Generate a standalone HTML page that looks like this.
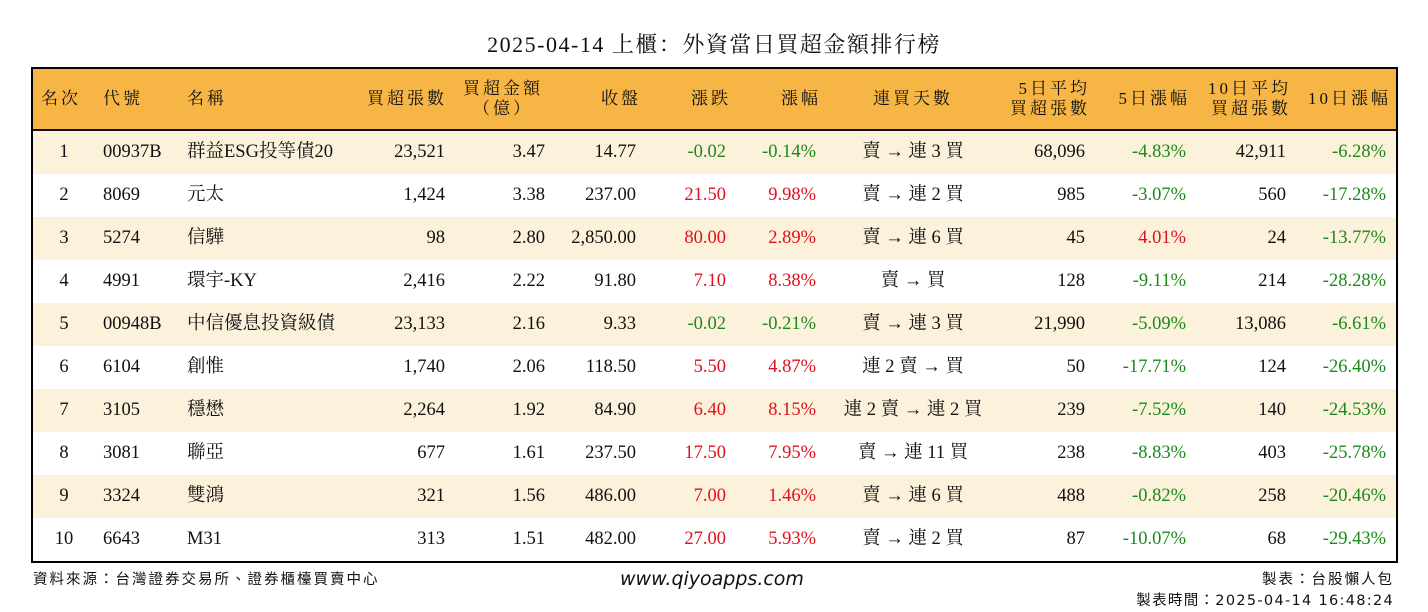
<!DOCTYPE html>
<html><head><meta charset="utf-8">
<style>
body{margin:0;width:1428px;height:612px;background:#fff;position:relative;overflow:hidden;font-family:"Liberation Serif","Noto Serif CJK SC",serif;color:#111}
.a{position:absolute;white-space:nowrap}
#title{left:0;width:1428px;top:28px;text-align:center;font-size:22px;letter-spacing:1.5px}
#tbl{position:absolute;left:31px;top:67px;width:1363px;height:492px;border:2px solid #000}
#hdr{position:absolute;left:0;top:0;width:1363px;height:60px;background:#F6B544;border-bottom:2px solid #111}
.row{position:absolute;left:0;width:1363px;height:43px}
.c{position:absolute;font-size:18.5px;line-height:43px;white-space:nowrap}
.h{position:absolute;font-size:17px;line-height:20px;white-space:nowrap;letter-spacing:3px;font-family:"Liberation Serif","Noto Serif CJK SC",serif}
.r{text-align:right}.m{text-align:center}
.g{color:#1a8a1a}.red{color:#e0101e}
.f{position:absolute;font-family:"DejaVu Sans","Noto Sans CJK TC",sans-serif;font-size:14.5px;white-space:nowrap;color:#111;letter-spacing:2px}
</style></head><body>
<div id="title" class="a">2025-04-14 上櫃：外資當日買超金額排行榜</div>
<div id="tbl">
<div id="hdr"></div>
</div>
<div class="f" style="left:33px;top:568px">資料來源：台灣證券交易所、證券櫃檯買賣中心</div>
<div class="f" style="left:620px;top:568px;font-size:19px;font-style:italic;letter-spacing:0;font-family:'DejaVu Sans',sans-serif">www.qiyoapps.com</div>
<div class="f" style="right:34px;top:568px">製表：台股懶人包</div>
<div class="f" style="right:34px;top:589px;letter-spacing:1.3px">製表時間：2025-04-14 16:48:24</div>
<script>
const ranks=["1","2","3","4","5","6","7","8","9","10"];
const codes=["00937B","8069","5274","4991","00948B","6104","3105","3081","3324","6643"];
const names=["群益ESG投等債20","元太","信驊","環宇-KY","中信優息投資級債","創惟","穩懋","聯亞","雙鴻","M31"];
const lots=["23,521","1,424","98","2,416","23,133","1,740","2,264","677","321","313"];
const amounts=["3.47","3.38","2.80","2.22","2.16","2.06","1.92","1.61","1.56","1.51"];
const closes=["14.77","237.00","2,850.00","91.80","9.33","118.50","84.90","237.50","486.00","482.00"];
const changes=["-0.02","21.50","80.00","7.10","-0.02","5.50","6.40","17.50","7.00","27.00"];
const pcts=["-0.14%","9.98%","2.89%","8.38%","-0.21%","4.87%","8.15%","7.95%","1.46%","5.93%"];
const streaks=["賣 → 連 3 買","賣 → 連 2 買","賣 → 連 6 買","賣 → 買","賣 → 連 3 買","連 2 賣 → 買","連 2 賣 → 連 2 買","賣 → 連 11 買","賣 → 連 6 買","賣 → 連 2 買"];
const avg5=["68,096","985","45","128","21,990","50","239","238","488","87"];
const pct5=["-4.83%","-3.07%","4.01%","-9.11%","-5.09%","-17.71%","-7.52%","-8.83%","-0.82%","-10.07%"];
const avg10=["42,911","560","24","214","13,086","124","140","403","258","68"];
const pct10=["-6.28%","-17.28%","-13.77%","-28.28%","-6.61%","-26.40%","-24.53%","-25.78%","-20.46%","-29.43%"];
const tbl=document.getElementById('tbl');
const hdr=document.getElementById('hdr');
const heads=[["名次",8,"l",60],["代號",70,"l",60],["名稱",154,"l",80],["買超張數",320,"r",94],["買超金額<br>（億）",420,"m",100],["收盤",540,"r",68],["漲跌",640,"r",58],["漲幅",730,"r",58],["連買天數",820,"m",120],["5日平均<br>買超張數",945,"r",112],["5日漲幅",1060,"r",97],["10日平均<br>買超張數",1150,"r",108],["10日漲幅",1260,"r",98]];
heads.forEach((h,i)=>{
  const d=document.createElement('div');
  d.className='h';
  
  
  d.innerHTML=h[0];
  const two=h[0].includes('<br>');
  d.style.top=(two?10:20)+'px';
  d.style.left=h[1]+'px';d.style.width=h[3]+'px';
  d.style.textAlign=h[2]=='l'?'left':h[2]=='r'?'right':'center';
  hdr.appendChild(d);
});
function sign(v){return v.trim().startsWith('-')?'g':'red';}
for(let i=0;i<ranks.length;i++){
  const row=document.createElement('div');
  row.className='row';
  
  
  row.style.top=(62+i*43)+'px';
  row.style.background=i%2==0?'#FCF1DA':'#fff';
  tbl.appendChild(row);
  const cells=[
    [ranks[i],16,'m',30,''],[codes[i],70,'l',90,''],[names[i],154,'l',200,''],
    [lots[i],328,'r',84,''],[amounts[i],428,'r',84,''],[closes[i],508,'r',95,''],
    [changes[i],608,'r',85,sign(changes[i])],[pcts[i],698,'r',85,sign(pcts[i])],
    [streaks[i],790,'m',180,''],[avg5[i],958,'r',94,''],[pct5[i],1058,'r',95,sign(pct5[i])],
    [avg10[i],1158,'r',95,''],[pct10[i],1253,'r',100,sign(pct10[i])]
  ];
  cells.forEach(c=>{
    const d=document.createElement('div');
    d.className='c '+c[4];
    
    
    d.textContent=c[0];
    d.style.left=c[1]+'px';d.style.width=c[3]+'px';
    d.style.textAlign=c[2]=='l'?'left':c[2]=='r'?'right':'center';
    row.appendChild(d);
  });
}
</script>
</body></html>
